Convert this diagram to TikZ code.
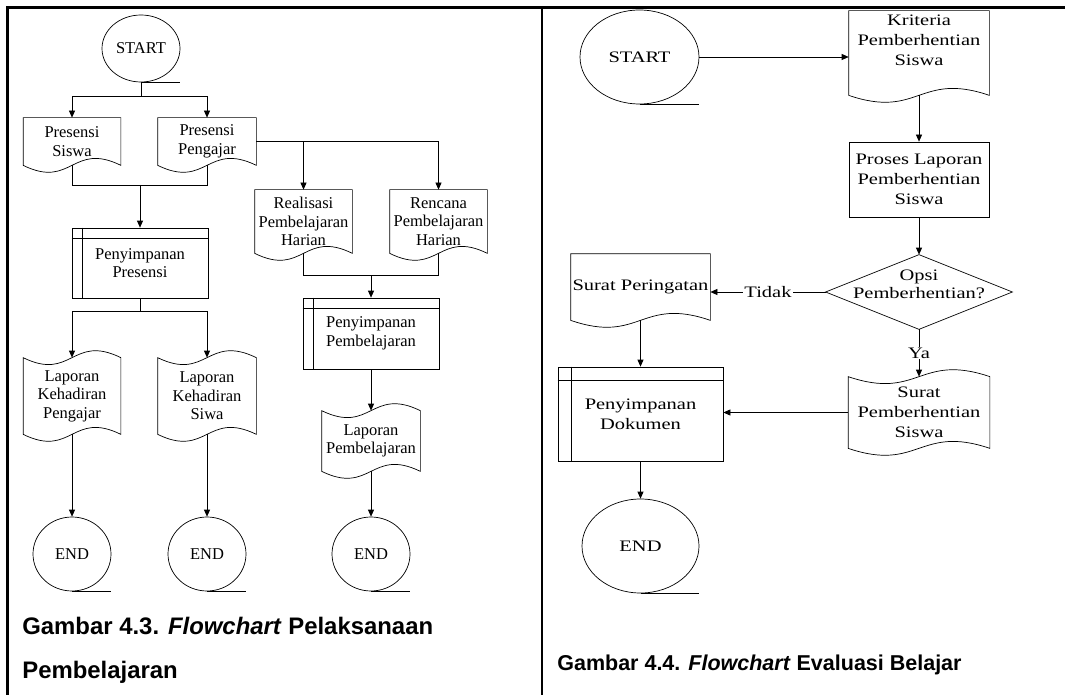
\documentclass[tikz,border=0pt]{standalone}
\usepackage{fontspec}
\setmainfont{Liberation Serif}
\newfontfamily\capfont{Liberation Sans}
\newfontfamily\wideserif[FakeStretch=1.28]{Liberation Serif}
\usetikzlibrary{shapes.geometric,arrows.meta}

\newcommand{\lfont}{\fontsize{16.5}{18.5}\selectfont}
\newcommand{\rfont}{\wideserif\fontsize{16}{20}\selectfont}
% document: flat top, wavy bottom (optional: extra length of the sides)
\newcommand{\docshape}[2][0pt]{%
  \draw (#2.north west) -- ([yshift=-#1]#2.south west)
    .. controls ([yshift=-#1-24pt]#2.south) and ([yshift=-#1+24pt]#2.south) .. ([yshift=-#1]#2.south east)
    -- (#2.north east) -- cycle;}
% punched tape: wavy top and bottom
\newcommand{\tapeshape}[1]{%
  \draw (#1.north west) .. controls ([yshift=-24pt]#1.north) and ([yshift=24pt]#1.north) .. (#1.north east)
    -- (#1.south east) .. controls ([yshift=24pt]#1.south) and ([yshift=-24pt]#1.south) .. (#1.south west) -- cycle;}
% internal storage: extra lines inside the box
\newcommand{\storeshape}[2][11pt]{%
  \draw ([xshift=#1]#2.north west) -- ([xshift=#1]#2.south west);
  \draw ([yshift=-#1]#2.north west) -- ([yshift=-#1]#2.north east);}
\newcommand{\tail}[1]{\draw (#1.south) -- (#1.south -| #1.east);}

\begin{document}
\begin{tikzpicture}[x=1pt,y=-1pt,line width=0.7pt,
  every node/.style={font=\lfont},
  box/.style={rectangle,inner sep=0pt,align=center},
  term/.style={ellipse,draw,inner sep=0pt},
  arr/.style={-{Triangle[length=7pt,width=6pt]}},
  frame/.style={line width=2.2pt}]
\useasboundingbox (0,0) rectangle (1065,695);
\draw[frame] (1065,7.5) -- (7.5,7.5) -- (7.5,695);
\draw[frame] (542,7.5) -- (542,695);

% Gambar 4.3
\node[term,minimum width=78pt,minimum height=67pt] (start1) at (141,48.5) {START};
\tail{start1}
\node[box,minimum width=97pt,minimum height=47pt] (ps) at (72,141.5) {Presensi\\Siswa};
\node[box,minimum width=98pt,minimum height=47pt] (pp) at (207,141.5) {Presensi\\Pengajar};
\docshape{ps} \docshape{pp}
\node[box,minimum width=97pt,minimum height=63pt] (rp) at (303.5,221.5) {Realisasi\\Pembelajaran\\Harian};
\node[box,minimum width=97pt,minimum height=63pt] (rc) at (438.5,221.5) {Rencana\\Pembelajaran\\Harian};
\docshape{rp} \docshape{rc}
\node[box,draw,minimum width=136pt,minimum height=70pt] (sp) at (140,263) {Penyimpanan\\Presensi};
\storeshape{sp}
\node[box,draw,minimum width=136pt,minimum height=71pt] (spb) at (371,333.5) {Penyimpanan\\Pembelajaran};
\storeshape{spb}
\node[box,minimum width=97pt,minimum height=76pt] (lk1) at (72,396) {Laporan\\Kehadiran\\Pengajar};
\node[box,minimum width=98pt,minimum height=76pt] (lk2) at (207,396) {Laporan\\Kehadiran\\Siwa};
\node[box,minimum width=98pt,minimum height=60pt] (lp) at (371,441) {Laporan\\Pembelajaran};
\tapeshape{lk1} \tapeshape{lk2} \tapeshape{lp}
\node[term,minimum width=78pt,minimum height=74pt] (end1) at (72,554) {END};
\node[term,minimum width=78pt,minimum height=74pt] (end2) at (207,554) {END};
\node[term,minimum width=78pt,minimum height=74pt] (end3) at (371,554) {END};
\tail{end1} \tail{end2} \tail{end3}

\coordinate (j1) at (141,96);
\coordinate (j2) at (140,185);
\coordinate (j3) at (140,311);
\coordinate (j4) at (371,275);
\draw (start1.south) -- (j1);
\draw[arr] (j1) -| (ps.north);
\draw[arr] (j1) -| (pp.north);
\draw (ps.south) |- (j2);
\draw (pp.south) |- (j2);
\draw[arr] (j2) -- (sp.north);
\draw (sp.south) -- (j3);
\draw[arr] (j3) -| (lk1.north);
\draw[arr] (j3) -| (lk2.north);
\draw[arr] (lk1.south) -- (end1.north);
\draw[arr] (lk2.south) -- (end2.north);
\draw[arr] (pp.east) -| (rc.north);
\draw[arr] (rp.north |- pp.east) -- (rp.north);
\draw (rp.south) |- (j4);
\draw (rc.south) |- (j4);
\draw[arr] (j4) -- (spb.north);
\draw[arr] (spb.south) -- (lp.north);
\draw[arr] (lp.south) -- (end3.north);

\node[anchor=base west,inner sep=0pt,font=\capfont\bfseries\fontsize{23.9}{28}\selectfont] (cap1) at (22,634) {Gambar 4.3. \textit{Flowchart} Pelaksanaan};
\node[anchor=base west,inner sep=0pt,font=\capfont\bfseries\fontsize{23.9}{28}\selectfont] (cap1b) at (22,678) {Pembelajaran};

% Gambar 4.4
\begin{scope}[every node/.style={font=\rfont}]
\node[term,minimum width=119pt,minimum height=94pt] (start2) at (639.5,57) {START};
\tail{start2}
\node[box,minimum width=140pt,minimum height=58pt] (kr) at (919,40) {Kriteria\\Pemberhentian\\Siswa};
\docshape[26pt]{kr}
\node[box,draw,minimum width=140pt,minimum height=75pt] (pl) at (919,179.5) {Proses Laporan\\Pemberhentian\\Siswa};
\node[box,minimum width=186pt,minimum height=74pt,text depth=16pt,font=\wideserif\fontsize{16}{18}\selectfont] (op) at (919,292) {Opsi\\Pemberhentian?};
\draw (op.north) -- (op.east) -- (op.south) -- (op.west) -- cycle;
\node[box,minimum width=139pt,minimum height=66pt] (spr) at (640.5,287) {Surat Peringatan};
\docshape{spr}
\node[box,draw,minimum width=165pt,minimum height=94pt] (sd) at (640.5,414) {Penyimpanan\\Dokumen};
\storeshape[14pt]{sd}
\node[box,minimum width=141pt,minimum height=71pt] (spm) at (919,412.5) {Surat\\Pemberhentian\\Siswa};
\tapeshape{spm}
\node[term,minimum width=117pt,minimum height=94pt] (end4) at (640.5,546) {END};
\tail{end4}

\draw[arr] (start2.east) -- (start2.east -| kr.west);
\draw[arr] ([yshift=-26pt]kr.south) -- (pl.north);
\draw[arr] (pl.south) -- (op.north);
\draw[arr] (op.west) -- node[fill=white,inner sep=1pt] {Tidak} (op.west -| spr.east);
\draw[arr] (spr.south) -- (sd.north);
\draw[arr] (op.south) -- node[fill=white,inner sep=1pt] {Ya} (spm.north);
\draw[arr] (spm.west) -- (spm.west -| sd.east);
\draw[arr] (sd.south) -- (end4.north);
\end{scope}

\node[anchor=base west,inner sep=0pt,font=\capfont\bfseries\fontsize{21.5}{26}\selectfont] (cap2) at (557,670) {Gambar 4.4. \textit{Flowchart} Evaluasi Belajar};
\end{tikzpicture}
\end{document}
